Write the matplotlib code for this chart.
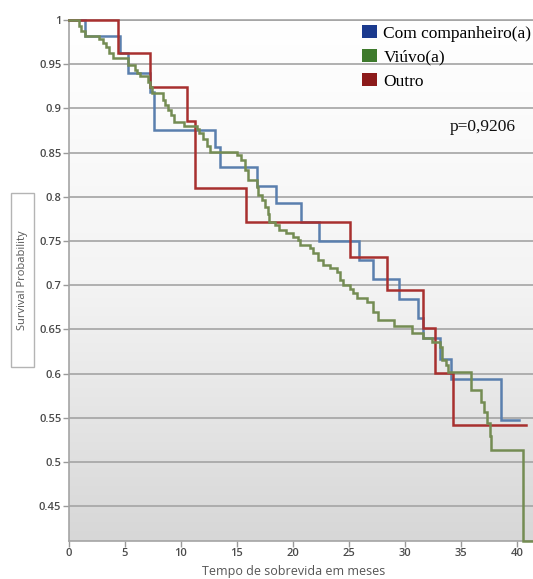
import matplotlib
matplotlib.use("Agg")
import matplotlib.pyplot as plt
import numpy as np
from matplotlib.colors import LinearSegmentedColormap
from matplotlib.patches import Patch, Rectangle

# Kaplan-Meier step curves (time in months, survival after each step)
com_t = [0, 1.46, 4.6, 5.27, 7.2, 7.57, 13.0, 13.5, 16.8, 18.5, 20.7, 22.3,
         25.9, 27.2, 29.5, 31.2, 31.6, 33.1, 34.1, 38.55, 40.2]
com_s = [1.0, 0.982, 0.963, 0.940, 0.919, 0.876, 0.856, 0.834, 0.812, 0.793,
         0.771, 0.750, 0.729, 0.707, 0.684, 0.663, 0.640, 0.617, 0.594, 0.548,
         0.548]

viu_t = [0, 0.9, 1.1, 1.4, 2.7, 3.0, 3.3, 3.6, 3.9, 5.3, 5.9, 6.1, 6.3, 7.1,
         7.2, 7.4, 8.4, 8.6, 8.85, 9.15, 9.35, 10.3, 11.4, 11.6, 12.0, 12.3,
         12.6, 15.0, 15.4, 15.7, 16.0, 16.75, 16.9, 17.2, 17.5, 17.8, 17.9,
         18.4, 18.8, 19.4, 20.0, 20.5, 20.6, 21.5, 21.8, 22.25, 22.7, 23.3,
         23.9, 24.2, 24.5, 25.1, 25.4, 25.7, 26.6, 27.2, 27.6, 29.0, 30.6,
         31.6, 32.4, 33.1, 33.3, 33.7, 33.9, 35.9, 36.8, 37.1, 37.3, 37.6,
         37.7, 40.6, 41.45]
viu_s = [1.0, 0.993, 0.987, 0.982, 0.978, 0.974, 0.969, 0.963, 0.957, 0.949,
         0.943, 0.940, 0.937, 0.930, 0.924, 0.917, 0.910, 0.904, 0.898, 0.893,
         0.885, 0.880, 0.877, 0.872, 0.865, 0.857, 0.851, 0.847, 0.842, 0.830,
         0.819, 0.811, 0.802, 0.796, 0.789, 0.781, 0.772, 0.768, 0.762, 0.759,
         0.755, 0.751, 0.745, 0.742, 0.736, 0.729, 0.723, 0.719, 0.715, 0.706,
         0.700, 0.696, 0.691, 0.685, 0.681, 0.670, 0.661, 0.654, 0.646, 0.640,
         0.636, 0.630, 0.615, 0.610, 0.602, 0.581, 0.568, 0.557, 0.544, 0.529,
         0.514, 0.411, 0.411]

out_t = [0, 4.38, 7.27, 10.55, 11.23, 15.8, 25.1, 28.4, 31.6, 32.7, 34.3, 40.8]
out_s = [1.0, 0.963, 0.924, 0.886, 0.810, 0.771, 0.732, 0.695, 0.652, 0.601,
         0.542, 0.542]

groups = ["Com companheiro(a)", "Viúvo(a)", "Outro"]
legend_colors = ["#1b3a8e", "#3e7a2c", "#8c1a1a"]
line_colors = ["#5a7fae", "#748c53", "#a8302f"]

x_ticks = [0, 5, 10, 15, 20, 25, 30, 35, 40]
y_ticks = [0.45, 0.5, 0.55, 0.6, 0.65, 0.7, 0.75, 0.8, 0.85, 0.9, 0.95, 1.0]
p_text = "p=0,9206"

W, H = 533, 579
fig = plt.figure(figsize=(W / 100, H / 100), dpi=100)
ax_l, ax_r, ax_t, ax_b = 69, 533, 20, 540.7
ax = fig.add_axes([ax_l / W, 1 - ax_b / H, (ax_r - ax_l) / W, (ax_b - ax_t) / H])
x_max, y_min, y_max = 41.45, 0.411, 1.0
ax.set_xlim(0, x_max)
ax.set_ylim(y_min, y_max)

# vertical grey gradient background
cmap = LinearSegmentedColormap.from_list("bg", ["#ffffff", "#f4f4f4", "#d7d7d7"])
grad = np.linspace(0, 1, 256).reshape(-1, 1)
ax.imshow(grad, extent=[0, x_max, y_min, y_max], aspect="auto", cmap=cmap,
          origin="upper", zorder=0, interpolation="bicubic")

ax.set_yticks(y_ticks)
ax.set_yticklabels([f"{v:g}" for v in y_ticks])
ax.set_xticks(x_ticks)
ax.set_xticklabels([str(v) for v in x_ticks])
ax.yaxis.grid(True, color="#a4a4a4", lw=1.2, zorder=1)
ax.set_axisbelow(True)

ax.spines["right"].set_visible(False)
for s in ["left", "bottom", "top"]:
    ax.spines[s].set_color("#a4a4a4")
    ax.spines[s].set_linewidth(1.2)
ax.tick_params(axis="both", colors="#9a9a9a", labelcolor="#4a4a4a",
               labelsize=8, length=4, width=1, pad=1.5)
for lbl in ax.get_xticklabels() + ax.get_yticklabels():
    lbl.set_family("Open Sans")
    lbl.set_fontweight("semibold")

series = [(com_t, com_s), (out_t, out_s), (viu_t, viu_s)]
order_colors = [line_colors[0], line_colors[2], line_colors[1]]
for (t, s), c in zip(series, order_colors):
    ax.step(t, s, where="post", color=c, lw=1.8, zorder=3, clip_on=False,
            solid_joinstyle="miter")

# legend
handles = [Patch(facecolor=c, edgecolor="none") for c in legend_colors]
fig.legend(handles, groups, loc="upper left",
           bbox_to_anchor=(362 / W, 1 - 25 / H), frameon=False,
           prop={"family": "Liberation Serif", "size": 12.5},
           handlelength=0.88, handleheight=0.8, handletextpad=0.35,
           labelspacing=0.42, borderpad=0, borderaxespad=0)

fig.text(450 / W, 1 - 127 / H, p_text, ha="left", va="center",
         family="Liberation Serif", size=12.5, color="#111111")

# axis titles
fig.text(294 / W, 1 - 572 / H, "Tempo de sobrevida em meses", ha="center",
         va="center", family="Open Sans", size=9, color="#555555")
fig.patches.append(Rectangle((11 / W, 1 - 367 / H), 23 / W, 174 / H,
                             transform=fig.transFigure, facecolor="white",
                             edgecolor="#b4b4b4", lw=1))
fig.text(22.5 / W, 1 - 280 / H, "Survival Probability", rotation=90,
         ha="center", va="center", family="Open Sans", size=8,
         color="#555555")

fig.savefig("out.png", dpi=100)
